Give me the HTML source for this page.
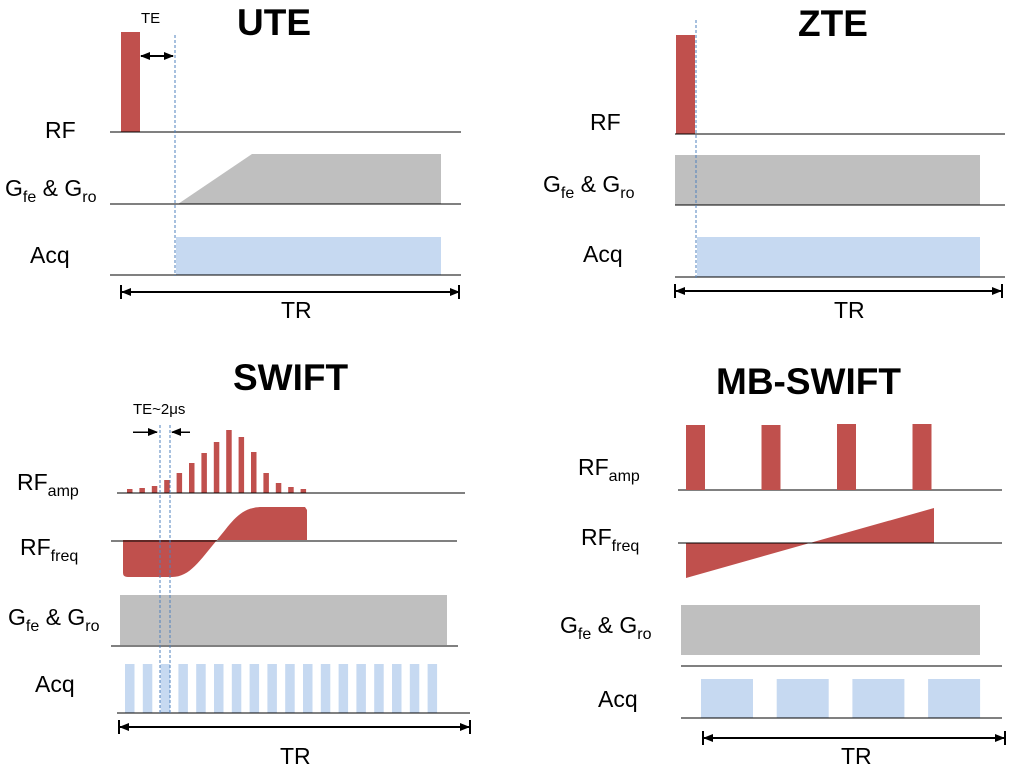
<!DOCTYPE html>
<html><head><meta charset="utf-8"><style>
body{margin:0;background:#fff}
svg{display:block;font-family:"Liberation Sans",sans-serif}
line{shape-rendering:crispEdges}
.lbl{font-size:23px;fill:#000}
.sub{font-size:16px}
.ttl{font-size:37px;font-weight:bold;fill:#000}
</style></head><body>
<svg id="c" width="1016" height="772" viewBox="0 0 1016 772">
<defs>
<marker id="ah" markerWidth="10" markerHeight="10" refX="9" refY="5" orient="auto-start-reverse" markerUnits="userSpaceOnUse"><path d="M0,1 L10,5 L0,9 Z" fill="#000"/></marker>
</defs>
<g>
<text class="ttl" x="237" y="35">UTE</text>
<text x="141" y="23" font-size="15">TE</text>
<rect x="121" y="32" width="19" height="100" fill="#c0504d"/>
<line x1="141" y1="56" x2="173" y2="56" stroke="#000" stroke-width="2" marker-start="url(#ah)" marker-end="url(#ah)"/>
<line x1="110" y1="132" x2="461" y2="132" stroke="#000"/>
<polygon points="178,204 252,154 441,154 441,204" fill="#bfbfbf"/>
<line x1="110" y1="204" x2="461" y2="204" stroke="#000"/>
<rect x="176" y="237" width="265" height="38" fill="#c6d9f1"/>
<line x1="110" y1="275" x2="461" y2="275" stroke="#000"/>
<line x1="175" y1="35" x2="175" y2="276" stroke="#4f81bd" stroke-dasharray="3,2"/>
<line x1="122" y1="292" x2="459" y2="292" stroke="#000" stroke-width="2" marker-start="url(#ah)" marker-end="url(#ah)"/>
<line x1="121" y1="285" x2="121" y2="299" stroke="#000" stroke-width="2"/><line x1="459" y1="285" x2="459" y2="299" stroke="#000" stroke-width="2"/>
<text class="lbl" x="281" y="318">TR</text>
<text class="lbl" x="45" y="138">RF</text>
<text class="lbl" x="5" y="196">G<tspan class="sub" dy="6">fe</tspan><tspan dy="-6"> &amp; G</tspan><tspan class="sub" dy="6">ro</tspan></text>
<text class="lbl" x="30" y="263">Acq</text>
</g>
<g>
<text class="ttl" x="798" y="36">ZTE</text>
<rect x="676" y="35" width="19" height="99" fill="#c0504d"/>
<line x1="675" y1="134" x2="1005" y2="134" stroke="#000"/>
<rect x="675" y="155" width="305" height="50" fill="#bfbfbf"/>
<line x1="675" y1="205" x2="1005" y2="205" stroke="#000"/>
<rect x="697" y="237" width="283" height="40" fill="#c6d9f1"/>
<line x1="675" y1="277" x2="1005" y2="277" stroke="#000"/>
<line x1="696" y1="20" x2="696" y2="278" stroke="#4f81bd" stroke-dasharray="3,2"/>
<line x1="676" y1="291" x2="1001" y2="291" stroke="#000" stroke-width="2" marker-start="url(#ah)" marker-end="url(#ah)"/>
<line x1="675" y1="284" x2="675" y2="298" stroke="#000" stroke-width="2"/><line x1="1002" y1="284" x2="1002" y2="298" stroke="#000" stroke-width="2"/>
<text class="lbl" x="834" y="318">TR</text>
<text class="lbl" x="590" y="130">RF</text>
<text class="lbl" x="543" y="192">G<tspan class="sub" dy="6">fe</tspan><tspan dy="-6"> &amp; G</tspan><tspan class="sub" dy="6">ro</tspan></text>
<text class="lbl" x="583" y="262">Acq</text>
</g>
<g id="swift">
<text class="ttl" x="233" y="390">SWIFT</text>
<text x="133" y="414" font-size="15">TE~2μs</text>
<line x1="133" y1="432" x2="157" y2="432" stroke="#000" stroke-width="1.5" marker-end="url(#ah)"/>
<line x1="190" y1="432" x2="172" y2="432" stroke="#000" stroke-width="1.5" marker-end="url(#ah)"/>
<line x1="117" y1="493" x2="465" y2="493" stroke="#000"/>
<path d="M123,540 L123,573 Q123,577 128,577 L172,577 C190,577 200,560 217,540 C232,522 240,507 262,507 L305,507 L307,510 L307,540 Z" fill="#c0504d"/>
<line x1="111" y1="541" x2="457" y2="541" stroke="#000"/>
<rect x="120" y="595" width="327" height="50" fill="#bfbfbf"/>
<line x1="111" y1="646" x2="458" y2="646" stroke="#000"/>
<line x1="117" y1="713" x2="470" y2="713" stroke="#000"/>
<line x1="160" y1="425" x2="160" y2="715" stroke="#4f81bd" stroke-dasharray="3,2"/>
<line x1="170" y1="425" x2="170" y2="715" stroke="#4f81bd" stroke-dasharray="3,2"/>
<line x1="120" y1="727" x2="469" y2="727" stroke="#000" stroke-width="2" marker-start="url(#ah)" marker-end="url(#ah)"/>
<line x1="119" y1="720" x2="119" y2="734" stroke="#000" stroke-width="2"/><line x1="470" y1="720" x2="470" y2="734" stroke="#000" stroke-width="2"/>
<text class="lbl" x="280" y="764">TR</text>
<text class="lbl" x="17" y="490">RF<tspan class="sub" dy="6">amp</tspan></text>
<text class="lbl" x="20" y="555">RF<tspan class="sub" dy="6">freq</tspan></text>
<text class="lbl" x="8" y="625">G<tspan class="sub" dy="6">fe</tspan><tspan dy="-6"> &amp; G</tspan><tspan class="sub" dy="6">ro</tspan></text>
<text class="lbl" x="35" y="692">Acq</text>
</g>
<g id="mb">
<text class="ttl" x="716" y="394">MB-SWIFT</text>
<line x1="678" y1="490" x2="1002" y2="490" stroke="#000"/>
<path d="M686,543 L686,578 L934,508 L934,543 Z" fill="#c0504d"/>
<line x1="678" y1="543" x2="1002" y2="543" stroke="#000"/>
<rect x="681" y="605" width="299" height="50" fill="#bfbfbf"/>
<line x1="681" y1="666" x2="1002" y2="666" stroke="#000"/>
<line x1="681" y1="718" x2="1002" y2="718" stroke="#000"/>
<line x1="704" y1="738" x2="1004" y2="738" stroke="#000" stroke-width="2" marker-start="url(#ah)" marker-end="url(#ah)"/>
<line x1="703" y1="731" x2="703" y2="745" stroke="#000" stroke-width="2"/><line x1="1005" y1="731" x2="1005" y2="745" stroke="#000" stroke-width="2"/>
<text class="lbl" x="841" y="764">TR</text>
<text class="lbl" x="578" y="475">RF<tspan class="sub" dy="6">amp</tspan></text>
<text class="lbl" x="581" y="545">RF<tspan class="sub" dy="6">freq</tspan></text>
<text class="lbl" x="560" y="633">G<tspan class="sub" dy="6">fe</tspan><tspan dy="-6"> &amp; G</tspan><tspan class="sub" dy="6">ro</tspan></text>
<text class="lbl" x="598" y="707">Acq</text>
</g>
</svg>
<script>
const swiftAmpHeights = [4, 5, 7, 13, 20, 30, 40, 51, 63, 56, 41, 20, 10, 6, 4];
const swiftAcqCount = 18;
const mbPulseHeights = [65, 65, 66, 66];
const mbAcqCount = 4;

const NS = "http://www.w3.org/2000/svg";
const sw = document.getElementById('swift');
const mb = document.getElementById('mb');
function rect(parent, x, y, w, h, fill) {
  const r = document.createElementNS(NS, 'rect');
  r.setAttribute('x', x); r.setAttribute('y', y);
  r.setAttribute('width', w); r.setAttribute('height', h);
  r.setAttribute('fill', fill);
  parent.insertBefore(r, parent.children[2]);
  return r;
}
const ampX = i => 127 + i * 12.4;
const ampY = v => 493 - v;
swiftAmpHeights.forEach((v, i) => {
  const r = rect(sw, ampX(i), ampY(v), 5.5, v, '#c0504d');
  
  
});
const acqX = i => 125 + i * 17.8;
for (let i = 0; i < swiftAcqCount; i++) {
  const r = rect(sw, acqX(i), 664, 9.5, 49, '#c6d9f1');
  
  
}
const mbX = i => 686 + i * 75.5;
mbPulseHeights.forEach((v, i) => {
  const r = rect(mb, mbX(i), 490 - v, 19, v, '#c0504d');
  
  
});
const mbAcqX = i => 701 + i * 75.7;
for (let i = 0; i < mbAcqCount; i++) {
  const r = rect(mb, mbAcqX(i), 679, 52, 39, '#c6d9f1');
  
  
}
</script>
</body></html>
